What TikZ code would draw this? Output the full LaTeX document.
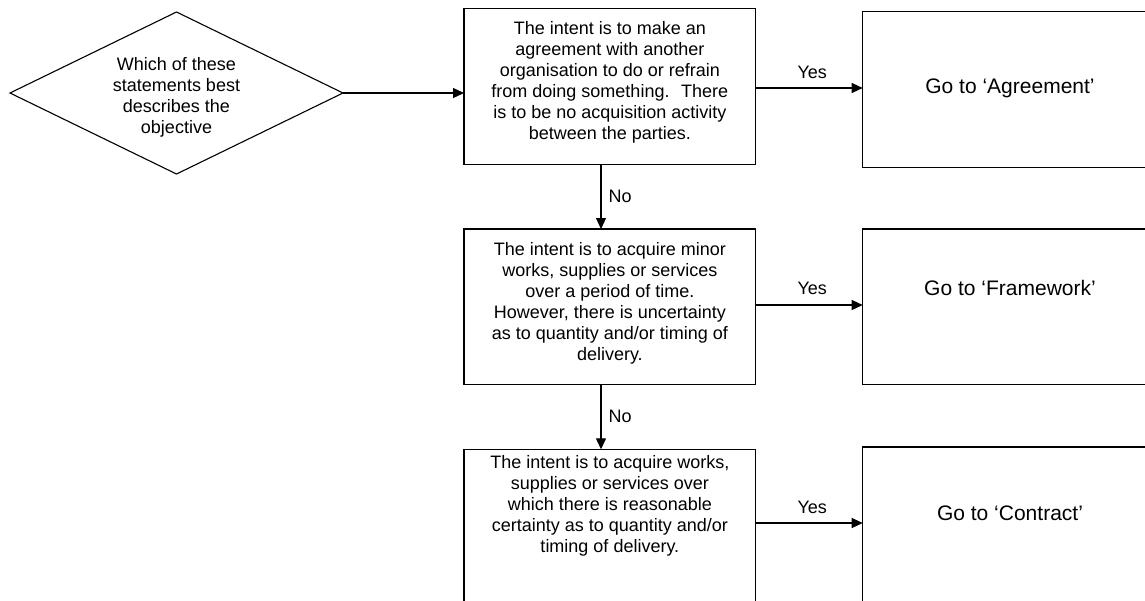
\documentclass[tikz,border=0pt]{standalone}
\usepackage{fontspec}
\setmainfont{Liberation Sans}
\usetikzlibrary{shapes.geometric,arrows.meta}
\newcommand\flowtext[4]{\parbox[c][#2][t]{#1}{\centering\fontsize{18}{21}\selectfont\vspace*{#3}#4}}
\newcommand\gototext[4]{\parbox[c][#2][t]{#1}{\centering\fontsize{21}{25}\selectfont\vspace*{#3}#4}}
\begin{document}
\begin{tikzpicture}[x=1pt,y=-1pt,
  box/.style={draw, line width=1.1pt, rectangle, inner sep=0pt, outer sep=0pt},
  decision/.style={draw, line width=1.1pt, diamond, aspect=2, inner sep=0pt, outer sep=0pt,
    minimum width=333pt, minimum height=162pt, align=center, font=\fontsize{18}{21}\selectfont},
  arr/.style={line width=1.2pt, -{Triangle[length=11pt,width=10pt]}},
  lbl/.style={font=\fontsize{18}{21}\selectfont, inner sep=0pt}
]
\useasboundingbox (0,0) rectangle (1145,600);
\clip (0,0) rectangle (1145,600);

\node[decision] (d) at (176.5,93) {\rule{0pt}{21pt}Which of these\\ statements best\\ describes the\\ objective};

\node[box] (b1) at (609.85,86.3) {\flowtext{291.7pt}{156pt}{13.5pt}{The intent is to make an\\ agreement with another\\ organisation to do or refrain\\ from doing something.~ There\\ is to be no acquisition activity\\ between the parties.}};
\node[box] (b2) at (609.85,306.6) {\flowtext{291.7pt}{155.2pt}{13.7pt}{The intent is to acquire minor\\ works, supplies or services\\ over a period of time.\\ However, there is uncertainty\\ as to quantity and/or timing of\\ delivery.}};
\node[box] (b3) at (609.85,527.3) {\flowtext{291.7pt}{156pt}{5.7pt}{The intent is to acquire works,\\ supplies or services over\\ which there is reasonable\\ certainty as to quantity and/or\\ timing of delivery.}};

\node[box] (r1) at (1010,89.5) {\gototext{294.6pt}{155.6pt}{67pt}{Go to ‘Agreement’}};
\node[box] (r2) at (1010,306.65) {\gototext{294.6pt}{155.3pt}{51.6pt}{Go to ‘Framework’}};
\node[box] (r3) at (1010,525) {\gototext{294.6pt}{156pt}{59pt}{Go to ‘Contract’}};

\coordinate (xno) at (601,0);
\coordinate (y1) at (0,88);
\coordinate (y2) at (0,305);
\coordinate (y3) at (0,523);

\draw[arr] (d.east) -- (d.east -| b1.west);
\draw[arr] (b1.east |- y1) -- node[lbl, yshift=16pt, xshift=3pt] (yes1) {Yes} (r1.west |- y1);
\draw[arr] (b2.east |- y2) -- node[lbl, yshift=17pt, xshift=3pt] (yes2) {Yes} (r2.west |- y2);
\draw[arr] (b3.east |- y3) -- node[lbl, yshift=16pt, xshift=3pt] (yes3) {Yes} (r3.west |- y3);
\draw[arr] (b1.south -| xno) -- node[lbl, anchor=west, xshift=7pt] (no1) {No} (b2.north -| xno);
\draw[arr] (b2.south -| xno) -- node[lbl, anchor=west, xshift=7pt] (no2) {No} (b3.north -| xno);
\end{tikzpicture}
\end{document}
